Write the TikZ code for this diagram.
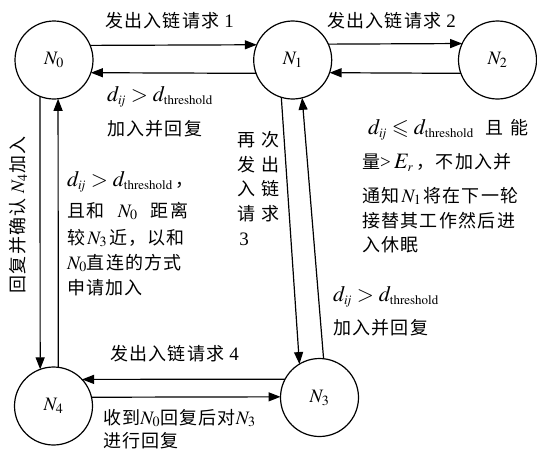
\documentclass[tikz,border=0pt]{standalone}
\usepackage{mathptmx}
\usepackage{amssymb}
\usepackage{fontspec}
\setmainfont{Liberation Serif}
\newfontfamily\zhfont[LetterSpace=7]{Noto Sans CJK SC}
\newcommand{\zhs}{\fontsize{18}{22}\selectfont\zhfont}
\DeclareMathSizes{22}{22}{13}{10}
\newcommand{\bigmth}{\fontsize{22}{26}\selectfont}
\newcommand{\dexpr}[1]{{\bigmth$d_{i\mkern-3mu j}#1d_{\mathrm{threshold}}$}}
\usetikzlibrary{arrows.meta}
\tikzset{
  circ/.style={circle, draw, line width=1.2pt, minimum size=78pt, inner sep=0pt, outer sep=0pt},
  arr/.style={line width=1.2pt, -{Triangle[length=12pt,width=9pt]}},
  txt/.style={inner sep=0pt, anchor=base west},
  ctxt/.style={inner sep=0pt, anchor=center},
}
\begin{document}
\begin{tikzpicture}[x=1pt,y=-1pt,font=\fontsize{19}{23}\selectfont]
\useasboundingbox (0,0) rectangle (537,450);
% nodes
\node[circ] (n0) at (54,60) {$N_0$};
\node[circ] (n1) at (292.7,60) {$N_1$};
\node[circ] (n2) at (497.5,60) {$N_2$};
\node[circ] (n3) at (319.5,397.5) {$N_3$};
\node[circ] (n4) at (53.5,406) {$N_4$};
% connectors
\draw[arr] (n0.22.6) -- (n1.157.4);
\draw[arr] (n1.-160.5) -- (n0.-19.5);
\draw[arr] (n1.24.2) -- (n2.155.8);
\draw[arr] (n2.-160.5) -- (n1.-19.5);
\draw[arr] (n0.-111) -- (n4.110.3);
\draw[arr] (n4.83.4) -- (n0.-84.1);
\draw[arr] (n1.-107.5) -- (n3.121.7);
\draw[arr] (n3.84.9) -- (n1.-76.2);
\draw[arr] (n3.152.1) -- (n4.43.8);
\draw[arr] (n4.13.3) -- (n3.179.3);
% labels top
\node[txt] (t1) at (105,27) {{\zhs 发出入链请求} 1};
\node[txt] (t2) at (327,27) {{\zhs 发出入链请求} 2};
\node[txt] (t3) at (107,101) {\dexpr{>}};
\node[txt] (t4) at (107,135) {\zhs 加入并回复};
% right text
\node[txt] (r1) at (368,134) {\dexpr{\leqslant}};
\node[txt] (r1a) at (485,134) {\zhs 且};
\node[txt] (r1b) at (510,134) {\zhs 能};
\node[txt] (r2) at (362,168) {{\zhs 量}\textgreater\,{\bigmth$E_r$}\,{\zhs ，不加入并}};
\node[txt] (r3) at (362,202) {{\zhs 通知}$\,N_1\,${\zhs 将在下一轮}};
\node[txt] (r4) at (362,227) {\zhs 接替其工作然后进};
\node[txt] (r5) at (362,251) {\zhs 入休眠};
% left middle text
\node[txt] (l1) at (67,186) {\dexpr{>}\,{\zhs ，}};
\node[txt] (l2) at (67,217) {\makebox[121pt][s]{{\zhs 且和}\hfill$N_0$\hfill{\zhs 距离}}};
\node[txt] (l3) at (67,244) {{\zhs 较}$\,N_3\,${\zhs 近，以和}};
\node[txt] (l4) at (67,269) {$N_0${\zhs 直连的方式}};
\node[txt] (l5) at (67,294) {\zhs 申请加入};
% vertical text
\node[ctxt, rotate=90] (v1) at (18,215) {{\zhs 回复并确认} $N_4${\zhs 加入}};
% column text
\node[ctxt] (c1) at (246,140) {\zhs 再};
\node[ctxt] (c2) at (270,140) {\zhs 次};
\node[ctxt] (c3) at (246,165) {\zhs 发};
\node[ctxt] (c4) at (270,165) {\zhs 出};
\node[ctxt] (c5) at (246,189) {\zhs 入};
\node[ctxt] (c6) at (270,189) {\zhs 链};
\node[ctxt] (c7) at (246,214) {\zhs 请};
\node[ctxt] (c8) at (270,214) {\zhs 求};
\node[ctxt] (c9) at (244,239) {3};
% lower right
\node[txt] (m1) at (333,301) {\dexpr{>}};
\node[txt] (m2) at (333,334) {\zhs 加入并回复};
% bottom
\node[txt] (b1) at (110,360) {{\zhs 发出入链请求} 4};
\node[txt] (b2) at (103,424) {{\zhs 收到}$N_0${\zhs 回复后对}$N_3$};
\node[txt] (b3) at (103,447) {\zhs 进行回复};
\end{tikzpicture}
\end{document}
